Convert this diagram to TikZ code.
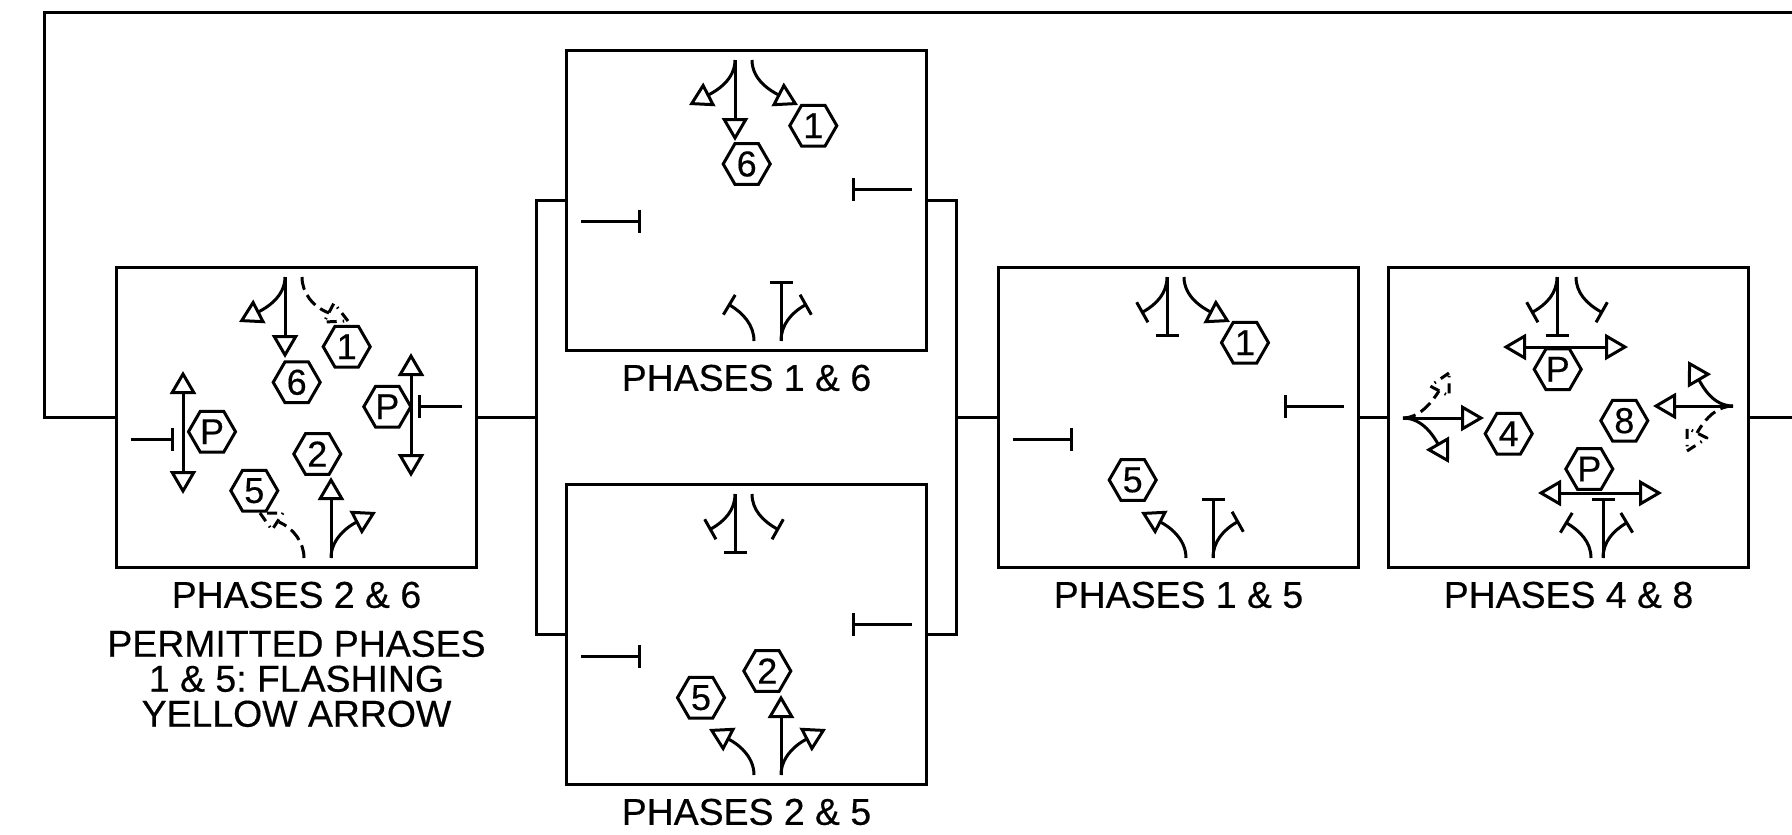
\documentclass[tikz,border=0pt]{standalone}
\usepackage{fontspec}
\setmainfont{Liberation Sans}[FakeBold=0.4]
\frenchspacing
\usetikzlibrary{arrows.meta,positioning,shapes.geometric}
\tikzset{
  wire/.style={line width=3pt},
  phasebox/.style={draw,line width=3pt,minimum width=360pt,minimum height=300pt,inner sep=0pt},
  caption/.style={align=center,inner sep=0pt,font=\fontsize{37.4}{35}\selectfont},
  road/.style={line width=3pt},
  go/.style={road,-{Triangle[open,length=23pt,width=26pt,line width=3pt]}},
  walk/.style={road,{Triangle[open,length=23pt,width=26pt,line width=3pt]}-{Triangle[open,length=23pt,width=26pt,line width=3pt]}},
  halt/.style={road,-{Bar[width=23pt,line width=3pt]}},
  flash/.style={road,dash pattern=on 13pt off 6pt},
  flashtip/.style={road,line join=round,dash pattern=on 10pt off 6pt on 1.5pt off 6pt},
  hex/.style={draw,line width=3pt,regular polygon,regular polygon sides=6,minimum size=47pt,inner sep=0pt,font=\fontsize{36}{36}\selectfont}
}

\begin{document}
\begin{tikzpicture}[x=1pt,y=-1pt]
	\useasboundingbox (0,0) rectangle (1792,835);

	\node[phasebox] (phaseA) at (296.5,417.5) {};
	\node[phasebox] (phaseB) at (746.5,200.5) {};
	\node[phasebox] (phaseC) at (746.5,634.5) {};
	\node[phasebox] (phaseD) at (1178.5,417.5) {};
	\node[phasebox] (phaseE) at (1568.5,417.5) {};

	\node[caption,below=12.5pt of phaseA] (capA) {PHASES 2 \& 6};
	\node[caption,below=12.5pt of phaseB] (capB) {PHASES 1 \& 6};
	\node[caption,below=12.5pt of phaseC] (capC) {PHASES 2 \& 5};
	\node[caption,below=12.5pt of phaseD] (capD) {PHASES 1 \& 5};
	\node[caption,below=12.5pt of phaseE] (capE) {PHASES 4 \& 8};
	\node[caption,below=22pt of capA] (capNote) {PERMITTED PHASES\\1 \& 5: FLASHING\\YELLOW ARROW};

	\coordinate (busW) at (536,417.5);
	\coordinate (busE) at (956,417.5);
	\coordinate (loopL) at (44,417.5);
	\coordinate (loopT) at (44,12.5);
	\coordinate (loopR) at (1792,12.5);
	\coordinate (exitR) at (1792,417.5);

	\draw[wire] (loopR) -- (loopT) -- (loopL) -- (phaseA.west);
	\draw[wire] (phaseA.east) -- (busW);
	\draw[wire] (phaseB.west) -| (busW) |- (phaseC.west);
	\draw[wire] (phaseB.east) -| (busE) |- (phaseC.east);
	\draw[wire] (busE) -- (phaseD.west);
	\draw[wire] (phaseD.east) -- (phaseE.west);
	\draw[wire] (phaseE.east) -- (exitR);

	% phases 2 & 6
	\begin{scope}[shift={(116,267)}]
		\draw[go] (169,10) -- (169,91);
		\draw[go] (169,10) .. controls (169,30) and (150,41) .. (123,55);
		\draw[flash] (186,10) .. controls (186,26) and (197,40) .. (213,46);
		\draw[flashtip] (232,54) -- (218,36) -- (208,55) -- cycle;
		\draw[go] (215,291) -- (215,210);
		\draw[go] (215,291) .. controls (215,271) and (233,259) .. (260,245);
		\draw[flash] (188,291) .. controls (188,275) and (177,261) .. (163,255);
		\draw[flashtip] (144,246) -- (156,263) -- (167,246) -- cycle;
		\draw[walk] (67,104) -- (67,227);
		\draw[walk] (295,86) -- (295,210);
		\draw[halt] (15,172) -- (58,172);
		\draw[halt] (346,139) -- (302,139);
		\node[hex] (sigOneA) at (230.7,79.7) {1};
		\node[hex] (sigSixA) at (180.7,115.3) {6};
		\node[hex] (sigTwoA) at (201.3,187) {2};
		\node[hex] (sigFiveA) at (138.3,223.7) {5};
		\node[hex] (pedWestA) at (96,164.7) {P};
		\node[hex] (pedEastA) at (271.3,139.7) {P};
	\end{scope}

	% phases 1 & 6
	\begin{scope}[shift={(566,50)}]
		\draw[go] (169,10) -- (169,91);
		\draw[go] (169,10) .. controls (169,30) and (150,41) .. (123,55);
		\draw[go] (186,10) .. controls (186,30) and (205,41) .. (232,55);
		\draw[halt] (215,291) -- (215,231);
		\draw[halt] (215,291) .. controls (215,275) and (225,263) .. (241,254);
		\draw[halt] (188,291) .. controls (188,275) and (177,263) .. (162,254);
		\draw[halt] (15,171) -- (75,171);
		\draw[halt] (346,139) -- (286,139);
		\node[hex] (sigOneB) at (247.3,75.7) {1};
		\node[hex] (sigSixB) at (180.7,114) {6};
	\end{scope}

	% phases 2 & 5
	\begin{scope}[shift={(566,484)}]
		\draw[halt] (169,10) -- (169,70);
		\draw[halt] (169,10) .. controls (169,26) and (159,37) .. (143,46);
		\draw[halt] (186,10) .. controls (186,26) and (197,37) .. (213,46);
		\draw[go] (215,291) -- (215,211);
		\draw[go] (215,291) .. controls (215,271) and (233,259) .. (260,245);
		\draw[go] (188,291) .. controls (188,271) and (170,259) .. (143,245);
		\draw[halt] (15,172) -- (75,172);
		\draw[halt] (346,140) -- (286,140);
		\node[hex] (sigTwoC) at (201.3,187) {2};
		\node[hex] (sigFiveC) at (135,213.7) {5};
	\end{scope}

	% phases 1 & 5
	\begin{scope}[shift={(998,267)}]
		\draw[halt] (169,10) -- (169,70);
		\draw[halt] (169,10) .. controls (169,26) and (159,37) .. (143,46);
		\draw[go] (186,10) .. controls (186,30) and (205,41) .. (232,55);
		\draw[halt] (215,291) -- (215,231);
		\draw[halt] (215,291) .. controls (215,275) and (225,263) .. (241,254);
		\draw[go] (188,291) .. controls (188,271) and (170,259) .. (143,245);
		\draw[halt] (15,172) -- (75,172);
		\draw[halt] (346,139) -- (286,139);
		\node[hex] (sigOneD) at (247,75.7) {1};
		\node[hex] (sigFiveD) at (134.7,213) {5};
	\end{scope}

	% phases 4 & 8
	\begin{scope}[shift={(1388,267)}]
		\draw[halt] (169,10) -- (169,70);
		\draw[halt] (169,10) .. controls (169,26) and (159,37) .. (143,46);
		\draw[halt] (188,10) .. controls (188,26) and (199,37) .. (215,46);
		\draw[halt] (215,291) -- (215,231);
		\draw[halt] (215,291) .. controls (215,275) and (225,264) .. (240,255);
		\draw[halt] (203,291) .. controls (203,275) and (192,264) .. (177,255);
		\draw[walk] (115,80) -- (240,80);
		\draw[walk] (150,226) -- (274,226);
		\draw[go] (15,151) -- (96,151);
		\draw[go] (15,151) .. controls (35,151) and (46,170) .. (61,196);
		\draw[flash] (15,151) .. controls (30,151) and (42,138) .. (51,124);
		\draw[flashtip] (61,106) -- (42,119) -- (61,129) -- cycle;
		\draw[go] (345,139) -- (265,139);
		\draw[go] (345,139) .. controls (325,139) and (315,120) .. (300,94);
		\draw[flash] (345,139) .. controls (330,139) and (318,150) .. (309,166);
		\draw[flashtip] (299,184) -- (319,171) -- (299,161) -- cycle;
		\node[hex] (pedNorthE) at (169.7,102.3) {P};
		\node[hex] (sigFourE) at (120.7,166.7) {4};
		\node[hex] (sigEightE) at (236.3,153.7) {8};
		\node[hex] (pedSouthE) at (201.3,202) {P};
	\end{scope}
\end{tikzpicture}
\end{document}
